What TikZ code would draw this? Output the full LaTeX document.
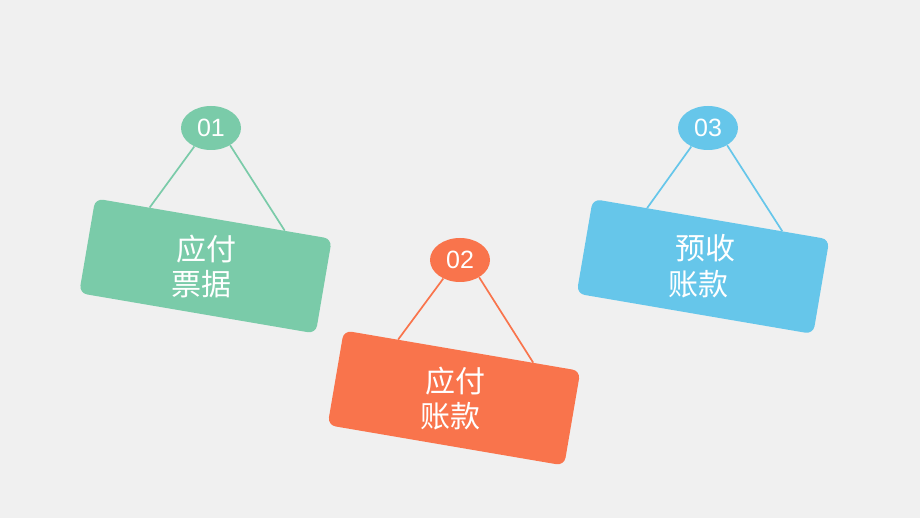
\documentclass[tikz,border=0pt]{standalone}
\usepackage{fontspec}
\setmainfont{Liberation Sans}
\newfontfamily\cjk{Noto Sans CJK SC}
\usetikzlibrary{shapes.geometric,calc}
\definecolor{bg}{HTML}{F0F0F0}
\definecolor{cgreen}{HTML}{7ACBA9}
\definecolor{corange}{HTML}{F9744C}
\definecolor{cblue}{HTML}{66C6EA}
\tikzset{
 signbox/.style={rectangle, rounded corners=8pt, minimum width=240pt, minimum height=96pt, rotate=-9.7, fill=#1, inner sep=0pt},
 badge/.style={ellipse, fill=#1, minimum width=60pt, minimum height=44pt, inner sep=0pt, text=white, font=\fontsize{25}{25}\selectfont},
 cord/.style={draw=#1, line width=1.7pt},
 signtext/.style={text=white, font=\cjk\fontsize{30}{30}\selectfont, inner sep=0pt},
}
\begin{document}
\begin{tikzpicture}[x=1pt,y=-1pt]
\fill[bg] (0,0) rectangle (920,518);
\useasboundingbox (0,0) rectangle (920,518);
% sign 1
\node[signbox=cgreen] (s1) at (205.5,266) {};
\node[badge=cgreen] (e1) at (211,128) {01};
\coordinate (c1l) at ($(s1.north west)!0.23!(s1.north east)$);
\coordinate (c1r) at ($(s1.north west)!0.80!(s1.north east)$);
\draw[cord=cgreen] (e1.-132) -- (c1l);
\draw[cord=cgreen] (e1.-42) -- (c1r);
\node[signtext] (t1a) at (206,249) {应付};
\node[signtext] (t1b) at (201,284) {票据};
% sign 2
\node[signbox=corange] (s2) at (454,398) {};
\node[badge=corange] (e2) at (460,260) {02};
\coordinate (c2l) at ($(s2.north west)!0.23!(s2.north east)$);
\coordinate (c2r) at ($(s2.north west)!0.80!(s2.north east)$);
\draw[cord=corange] (e2.-132) -- (c2l);
\draw[cord=corange] (e2.-42) -- (c2r);
\node[signtext] (t2a) at (455,381) {应付};
\node[signtext] (t2b) at (450,416) {账款};
% sign 3
\node[signbox=cblue] (s3) at (703,266.5) {};
\node[badge=cblue] (e3) at (708,128) {03};
\coordinate (c3l) at ($(s3.north west)!0.23!(s3.north east)$);
\coordinate (c3r) at ($(s3.north west)!0.80!(s3.north east)$);
\draw[cord=cblue] (e3.-132) -- (c3l);
\draw[cord=cblue] (e3.-42) -- (c3r);
\node[signtext] (t3a) at (705,248) {预收};
\node[signtext] (t3b) at (698,284) {账款};
\end{tikzpicture}
\end{document}
